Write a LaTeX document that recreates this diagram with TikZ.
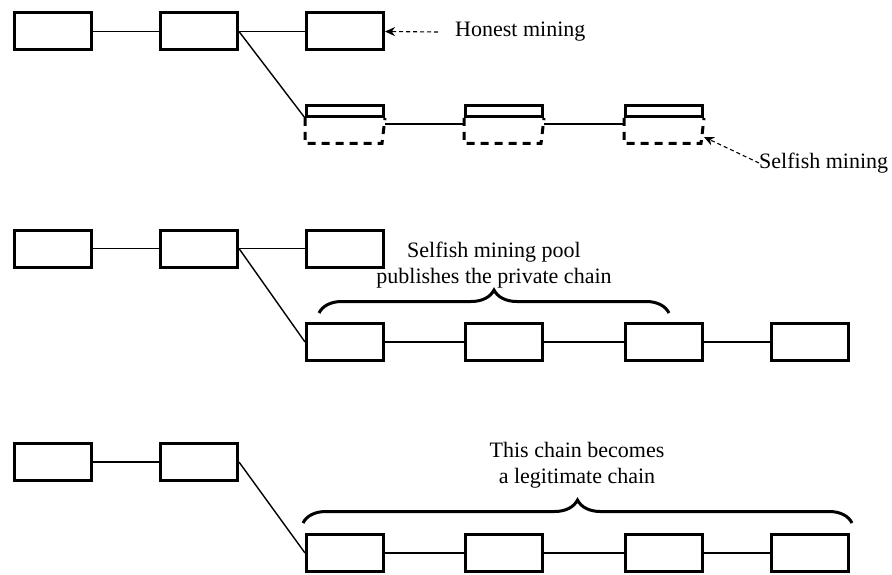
\documentclass[tikz,border=0pt]{standalone}
\usepackage{fontspec}
\setmainfont{Liberation Serif}
\usetikzlibrary{arrows.meta,decorations.pathreplacing,calc}
\begin{document}
\begin{tikzpicture}[x=1pt,y=-1pt,
  block/.style={draw,line width=3pt,minimum width=77pt,minimum height=37pt,inner sep=0pt},
  hidtop/.style={draw,line width=3pt,minimum width=77pt,minimum height=11pt,inner sep=0pt},
  hidpart/.style={line width=3pt,dash pattern=on 8pt off 6pt},
  link/.style={line width=1.4pt},
  note/.style={font=\fontsize{22}{25.5}\selectfont,inner sep=0pt},
  pointer/.style={line width=1.1pt,dash pattern=on 4pt off 3pt,-{Stealth[length=10pt,width=9pt]}},
  bracket/.style={line width=3pt,decorate,decoration={brace,amplitude=23pt}}]
\useasboundingbox (0,0) rectangle (892,575);

% --- first stage: honest chain and the hidden private chain ---
\node[block] (a1) at (53,31.5) {};
\node[block] (a2) at (199,31.5) {};
\node[block] (a3) at (345,31.5) {};
\draw[link] (a1) -- (a2);
\draw[link] (a2) -- (a3);

\node[hidtop] (s1) at (345,111) {};
\node[hidtop] (s2) at (504,111) {};
\node[hidtop] (s3) at (664,111) {};
\foreach \s in {s1,s2,s3}{
  \draw[hidpart] (\s.south west) -- ++(0,25.5) -- ++(77,0) -- (\s.south east);
}
\coordinate (s1r) at ([yshift=-6pt]s1.south east);
\coordinate (s2l) at ([yshift=-6pt]s2.south west);
\coordinate (s2r) at ([yshift=-6pt]s2.south east);
\coordinate (s3l) at ([yshift=-6pt]s3.south west);
\coordinate (s3c) at ([yshift=-19pt]s3.south east);
\draw[link] (a2.east) -- (s1.south west);
\draw[link] (s1r) -- (s2l);
\draw[link] (s2r) -- (s3l);

\node[note,anchor=west] (hm) at (455,32) {Honest mining};
\draw[pointer] ([xshift=-17pt]hm.west) -- (a3.east);
\node[note,anchor=west] (sm) at (759,163) {Selfish mining};
\draw[pointer] (sm.west) -- (s3c);

% --- second stage: the private chain is published ---
\node[block] (b1) at (53,248.5) {};
\node[block] (b2) at (199,248.5) {};
\node[block] (b3) at (345,248.5) {};
\draw[link] (b1) -- (b2);
\draw[link] (b2) -- (b3);
\node[block] (p1) at (345,342) {};
\node[block] (p2) at (504,342) {};
\node[block] (p3) at (664,342) {};
\node[block] (p4) at (810,342) {};
\draw[link] (b2.east) -- (p1.west);
\draw[link] (p1) -- (p2);
\draw[link] (p2) -- (p3);
\draw[link] (p3) -- (p4);
\coordinate (br1) at (319,313);
\coordinate (br2) at (669,313);
\draw[bracket] (br1) -- (br2);
\node[note,align=center,anchor=south] (t2) at (494,288) {Selfish mining pool\\publishes the private chain};

% --- third stage: the longer chain wins ---
\node[block] (c1) at (53,462) {};
\node[block] (c2) at (199,462) {};
\draw[link] (c1) -- (c2);
\node[block] (q1) at (345,553) {};
\node[block] (q2) at (504,553) {};
\node[block] (q3) at (664,553) {};
\node[block] (q4) at (810,553) {};
\draw[link] (c2.east) -- (q1.west);
\draw[link] (q1) -- (q2);
\draw[link] (q2) -- (q3);
\draw[link] (q3) -- (q4);
\coordinate (br3) at (303,523);
\coordinate (br4) at (852,523);
\draw[bracket] (br3) -- (br4);
\node[note,align=center,anchor=south] (t3) at (577,488) {This chain becomes\\a legitimate chain};
\end{tikzpicture}
\end{document}
